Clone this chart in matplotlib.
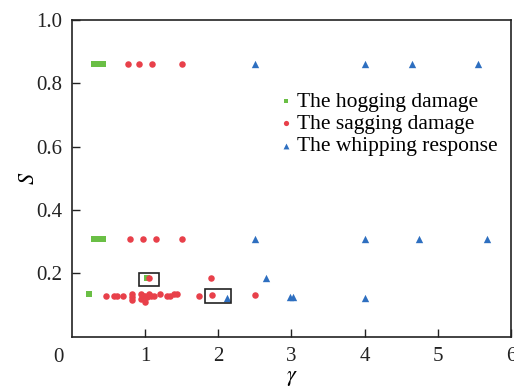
import matplotlib
matplotlib.use("Agg")
import matplotlib.pyplot as plt
from matplotlib.patches import Rectangle

plt.rcParams["font.family"] = ["Liberation Serif", "DejaVu Serif"]
plt.rcParams["mathtext.fontset"] = "stix"

# hogging damage
hog_x = [0.30, 0.33, 0.36, 0.40, 0.43, 0.30, 0.33, 0.36, 0.40, 0.43, 0.23, 1.02]
hog_s = [0.86, 0.86, 0.86, 0.86, 0.86, 0.31, 0.31, 0.31, 0.31, 0.31, 0.135, 0.185]

# sagging damage
sag_x = [0.76, 0.92, 1.10, 1.50, 0.80, 0.97, 1.15, 1.50,
         0.47, 0.57, 0.62, 0.70, 0.82, 0.82, 0.82, 0.95, 0.95, 0.97, 1.00, 1.00,
         1.02, 1.05, 1.08, 1.12, 1.20, 1.30, 1.34, 1.40, 1.43, 1.74, 1.91, 2.50,
         1.05, 1.90]
sag_s = [0.86, 0.86, 0.86, 0.86, 0.31, 0.31, 0.31, 0.31,
         0.13, 0.13, 0.13, 0.13, 0.135, 0.125, 0.115, 0.135, 0.12, 0.13, 0.13, 0.11,
         0.125, 0.135, 0.13, 0.13, 0.135, 0.13, 0.13, 0.135, 0.135, 0.13, 0.133, 0.133,
         0.185, 0.185]

# whipping response
whip_x = [2.50, 4.00, 4.65, 5.55, 2.50, 4.00, 4.75, 5.67, 2.65, 2.12, 2.98, 3.02, 4.00]
whip_s = [0.86, 0.86, 0.86, 0.86, 0.31, 0.31, 0.31, 0.31, 0.185, 0.123, 0.125, 0.125, 0.123]

# highlighted regions (x0, y0, width, height)
boxes = [(0.92, 0.162, 0.27, 0.041), (1.82, 0.108, 0.36, 0.044)]

fig = plt.figure(figsize=(5.14, 3.89), dpi=100)
ax = fig.add_axes([0.140, 0.134, 0.854, 0.815])

ax.scatter(hog_x, hog_s, marker="s", s=20, color="#6abf45", linewidths=0,
           label="The hogging damage", zorder=3)
ax.scatter(sag_x, sag_s, marker="o", s=22, color="#e8404a", linewidths=0,
           label="The sagging damage", zorder=3)
ax.scatter(whip_x, whip_s, marker="^", s=28, color="#2e6fc0", linewidths=0,
           label="The whipping response", zorder=3)

for x0, y0, w, h in boxes:
    ax.add_patch(Rectangle((x0, y0), w, h, fill=False, edgecolor="#222222",
                           linewidth=1.2, zorder=4))

ax.set_xlim(0, 6)
ax.set_ylim(0, 1.0)
ax.set_xticks([1, 2, 3, 4, 5, 6])
ax.set_yticks([0.2, 0.4, 0.6, 0.8, 1.0])
ax.set_yticklabels(["0.2", "0.4", "0.6", "0.8", "1.0"])
ax.tick_params(direction="in", length=6, width=1, labelsize=15, pad=7,
               colors="#222222")
for sp in ax.spines.values():
    sp.set_linewidth(1.2)
    sp.set_color("#222222")
ax.text(-0.02, -0.035, "0", transform=ax.transAxes, ha="right", va="top",
        fontsize=15, color="#222222")

ax.set_xlabel(r"$\gamma$", fontsize=16)
ax.set_ylabel(r"$S$", fontsize=16)
ax.xaxis.set_label_coords(0.5, -0.10)
ax.yaxis.set_label_coords(-0.075, 0.5)

ax.legend(loc="upper left", bbox_to_anchor=(0.443, 0.80), frameon=False,
          fontsize=15.5, handletextpad=0.0, handlelength=1.0, labelspacing=0.1,
          markerscale=0.8, borderaxespad=0)

fig.savefig("out.png", dpi=100)
